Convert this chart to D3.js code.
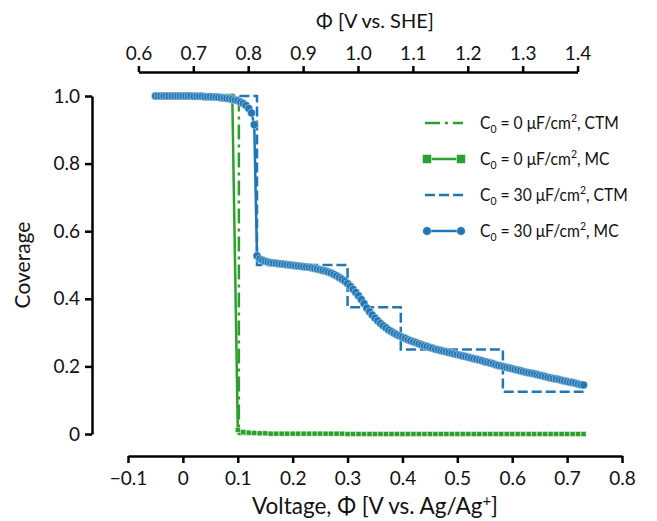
<!DOCTYPE html>
<html>
<head>
<meta charset="utf-8">
<script src="https://cdn.jsdelivr.net/npm/d3@7"></script>
<style>
  body { margin: 0; background: #fff; }
  text { font-family: Lato, "Noto Sans", sans-serif; fill: #111; }
</style>
</head>
<body>
<svg id="chart" width="657" height="521"></svg>
<script>
// ---- data ----
// MC, C0 = 30 uF/cm2 (blue circles)
const mc30Voltage = [
  -0.05,-0.045,-0.04,-0.035,-0.03,-0.025,-0.02,-0.015,-0.01,-0.005,
  0,0.005,0.01,0.015,0.02,0.025,0.03,0.035,0.04,0.045,
  0.05,0.055,0.06,0.065,0.07,0.075,0.08,0.085,0.09,0.095,
  0.1,0.105,0.11,0.115,0.12,0.125,0.13,0.135,0.14,0.145,
  0.15,0.155,0.16,0.165,0.17,0.175,0.18,0.185,0.19,0.195,
  0.2,0.205,0.21,0.215,0.22,0.225,0.23,0.235,0.24,0.245,
  0.25,0.255,0.26,0.265,0.27,0.275,0.28,0.285,0.29,0.295,
  0.3,0.305,0.31,0.315,0.32,0.325,0.33,0.335,0.34,0.345,
  0.35,0.355,0.36,0.365,0.37,0.375,0.38,0.385,0.39,0.395,
  0.4,0.405,0.41,0.415,0.42,0.425,0.43,0.435,0.44,0.445,
  0.45,0.455,0.46,0.465,0.47,0.475,0.48,0.485,0.49,0.495,
  0.5,0.505,0.51,0.515,0.52,0.525,0.53,0.535,0.54,0.545,
  0.55,0.555,0.56,0.565,0.57,0.575,0.58,0.585,0.59,0.595,
  0.6,0.605,0.61,0.615,0.62,0.625,0.63,0.635,0.64,0.645,
  0.65,0.655,0.66,0.665,0.67,0.675,0.68,0.685,0.69,0.695,
  0.7,0.705,0.71,0.715,0.72,0.725,0.73
];
const mc30Coverage = [
  1,1,1,1,1,1,1,1,1,1,
  1,1,1,1,0.999,0.999,0.999,0.999,0.998,0.998,
  0.998,0.997,0.997,0.996,0.995,0.994,0.993,0.992,0.990,0.988,
  0.986,0.982,0.978,0.972,0.963,0.950,0.915,0.527,0.518,0.514,
  0.511,0.509,0.507,0.506,0.505,0.504,0.503,0.502,0.501,0.500,
  0.499,0.498,0.497,0.496,0.495,0.494,0.493,0.492,0.490,0.488,
  0.486,0.484,0.482,0.479,0.476,0.472,0.468,0.463,0.458,0.452,
  0.445,0.437,0.428,0.419,0.409,0.398,0.386,0.373,0.362,0.352,
  0.343,0.335,0.327,0.320,0.314,0.308,0.303,0.298,0.294,0.290,
  0.286,0.283,0.279,0.276,0.273,0.270,0.267,0.264,0.261,0.259,
  0.256,0.254,0.251,0.249,0.247,0.245,0.243,0.241,0.239,0.237,
  0.235,0.233,0.231,0.229,0.227,0.225,0.223,0.221,0.219,0.217,
  0.214,0.212,0.210,0.208,0.205,0.203,0.201,0.199,0.197,0.195,
  0.193,0.191,0.189,0.187,0.185,0.183,0.181,0.180,0.178,0.176,
  0.174,0.172,0.170,0.168,0.166,0.164,0.163,0.161,0.159,0.157,
  0.155,0.153,0.152,0.150,0.148,0.146,0.145
];

// MC, C0 = 0 uF/cm2 (green squares)
const mc0Voltage = [
  -0.05,-0.04,-0.03,-0.02,-0.01,0,0.01,0.02,0.03,0.04,
  0.05,0.06,0.07,0.08,0.09,0.1,0.11,0.12,0.13,0.14,
  0.15,0.16,0.17,0.18,0.19,0.2,0.21,0.22,0.23,0.24,
  0.25,0.26,0.27,0.28,0.29,0.3,0.31,0.32,0.33,0.34,
  0.35,0.36,0.37,0.38,0.39,0.4,0.41,0.42,0.43,0.44,
  0.45,0.46,0.47,0.48,0.49,0.5,0.51,0.52,0.53,0.54,
  0.55,0.56,0.57,0.58,0.59,0.6,0.61,0.62,0.63,0.64,
  0.65,0.66,0.67,0.68,0.69,0.7,0.71,0.72,0.73
];
const mc0Coverage = [
  1,1,1,1,1,1,1,1,1,1,
  1,1,1,1,1,0.012,0.006,0.004,0.003,0.002,
  0.002,0.001,0.001,0.001,0.001,0.001,0.001,0.001,0.001,0.001,
  0.001,0.001,0.001,0.001,0.001,0,0,0,0,0,
  0,0,0,0,0,0,0,0,0,0,
  0,0,0,0,0,0,0,0,0,0,
  0,0,0,0,0,0,0,0,0,0,
  0,0,0,0,0,0,0,0,0
];

// CTM step curves
const ctm0Voltage = [-0.05, 0.102, 0.102, 0.73];
const ctm0Coverage = [1, 1, 0, 0];
const ctm30Voltage = [-0.05, 0.135, 0.135, 0.30, 0.30, 0.397, 0.397, 0.583, 0.583, 0.73];
const ctm30Coverage = [1, 1, 0.5, 0.5, 0.375, 0.375, 0.25, 0.25, 0.125, 0.125];

const xTicks = [-0.1, 0, 0.1, 0.2, 0.3, 0.4, 0.5, 0.6, 0.7, 0.8];
const yTicks = [0, 0.2, 0.4, 0.6, 0.8, 1.0];
const sheTicks = [0.6, 0.7, 0.8, 0.9, 1.0, 1.1, 1.2, 1.3, 1.4];
const sheOffset = 0.681; // V vs SHE = V vs Ag/Ag+ + offset

const green = '#2ca02c', blue = '#1f77b4';
const fontFamily = 'Lato, "Noto Sans", sans-serif';

const svg = d3.select('#chart');

const x = d3.scaleLinear().domain([-0.1, 0.8]).range([128, 622]);
const y = d3.scaleLinear().domain([0, 1]).range([434, 96]);
// top axis shares the bottom scale, shifted by the reference offset
const xShe = d3.scaleLinear()
  .domain([0.6, 1.4])
  .range([x(0.6 - sheOffset), x(1.4 - sheOffset)]);

const minus = s => s.replace('-', '\u2212');
const fmt = d => d === 0 ? '0' : minus(d3.format('.1f')(d));

function styleAxis(g) {
  g.select('.domain').attr('stroke', '#000').attr('stroke-width', 2.5);
  g.selectAll('.tick line').attr('stroke', '#000').attr('stroke-width', 2.5);
  g.selectAll('.tick text')
    .attr('font-family', fontFamily)
    .attr('font-size', 19)
    .attr('fill', '#111');
}

svg.append('g')
  .attr('transform', 'translate(0,456)')
  .call(d3.axisBottom(x).tickValues(xTicks).tickFormat(fmt).tickSize(7).tickSizeOuter(0).tickPadding(9))
  .call(styleAxis);

svg.append('g')
  .attr('transform', 'translate(92,0)')
  .call(d3.axisLeft(y).tickValues(yTicks).tickFormat(fmt).tickSize(7).tickSizeOuter(0).tickPadding(5))
  .call(styleAxis);

svg.append('g')
  .attr('transform', 'translate(0,72)')
  .call(d3.axisTop(xShe).tickValues(sheTicks).tickFormat(d3.format('.1f')).tickSize(6).tickSizeOuter(0).tickPadding(6))
  .call(styleAxis);

// axis titles
const xLabel = svg.append('text')
  .attr('x', (x.range()[0] + x.range()[1]) / 2)
  .attr('y', 514)
  .attr('text-anchor', 'middle')
  .attr('font-size', 22.5);
xLabel.append('tspan').text('Voltage, \u03a6 [V vs. Ag/Ag');
xLabel.append('tspan').attr('font-size', 15).attr('dy', -8).text('+');
xLabel.append('tspan').attr('dy', 8).text(']');

svg.append('text')
  .attr('x', (x.range()[0] + x.range()[1]) / 2)
  .attr('y', 28)
  .attr('text-anchor', 'middle')
  .attr('font-size', 20)
  .text('\u03a6 [V vs. SHE]');

svg.append('text')
  .attr('transform', `translate(30,${(y.range()[0] + y.range()[1]) / 2}) rotate(-90)`)
  .attr('text-anchor', 'middle')
  .attr('font-size', 21)
  .text('Coverage');

// ---- series ----
const line = d3.line().x(d => x(d[0])).y(d => y(d[1]));
const zipSeries = (vs, cs) => vs.map((v, i) => [v, cs[i]]);

const ctm0 = zipSeries(ctm0Voltage, ctm0Coverage);
const mc0 = zipSeries(mc0Voltage, mc0Coverage);
const ctm30 = zipSeries(ctm30Voltage, ctm30Coverage);
const mc30 = zipSeries(mc30Voltage, mc30Coverage);

const plot = svg.append('g');

plot.append('path').datum(ctm0)
  .attr('d', line).attr('fill', 'none')
  .attr('stroke', green).attr('stroke-width', 2.5)
  .attr('stroke-dasharray', '15,5,3,5');

plot.append('path').datum(mc0)
  .attr('d', line).attr('fill', 'none')
  .attr('stroke', green).attr('stroke-width', 2.5);
plot.append('g').selectAll('rect').data(mc0).join('rect')
  .attr('x', d => x(d[0]) - 2.5).attr('y', d => y(d[1]) - 2.5)
  .attr('width', 5).attr('height', 5)
  .attr('fill', green).attr('stroke', '#fff').attr('stroke-opacity', 0.6).attr('stroke-width', 0.7);

plot.append('path').datum(ctm30)
  .attr('d', line).attr('fill', 'none')
  .attr('stroke', blue).attr('stroke-width', 2.5)
  .attr('stroke-dasharray', '10,4');

plot.append('path').datum(mc30)
  .attr('d', line).attr('fill', 'none')
  .attr('stroke', blue).attr('stroke-width', 2.5);
plot.append('g').selectAll('circle').data(mc30).join('circle')
  .attr('cx', d => x(d[0])).attr('cy', d => y(d[1]))
  .attr('r', 4)
  .attr('fill', blue).attr('stroke', '#fff').attr('stroke-opacity', 0.6).attr('stroke-width', 0.7);

// ---- legend ----
const legendItems = [
  { c0: '0', model: 'CTM', color: green, dash: '15,5,3,5', marker: null },
  { c0: '0', model: 'MC', color: green, dash: null, marker: 'square' },
  { c0: '30', model: 'CTM', color: blue, dash: '10,4', marker: null },
  { c0: '30', model: 'MC', color: blue, dash: null, marker: 'circle' }
];

const legend = svg.append('g').attr('transform', 'translate(425,123)');
legendItems.forEach((it, i) => {
  const row = legend.append('g').attr('transform', `translate(0,${i * 36})`);
  row.append('line')
    .attr('x1', 0).attr('x2', 38).attr('y1', 0).attr('y2', 0)
    .attr('stroke', it.color).attr('stroke-width', 2.5)
    .attr('stroke-dasharray', it.dash);
  [2, 36].forEach(mx => {
    if (it.marker === 'square') {
      row.append('rect').attr('x', mx - 4.5).attr('y', -4.5).attr('width', 9).attr('height', 9)
        .attr('fill', it.color).attr('stroke', '#fff').attr('stroke-opacity', 0.5).attr('stroke-width', 1);
    } else if (it.marker === 'circle') {
      row.append('circle').attr('cx', mx).attr('cy', 0).attr('r', 4.3)
        .attr('fill', it.color).attr('stroke', '#fff').attr('stroke-opacity', 0.5).attr('stroke-width', 0.8);
    }
  });
  const t = row.append('text')
    .attr('transform', 'translate(55,6) scale(0.87,1)')
    .attr('font-size', 18);
  t.append('tspan').text('C');
  t.append('tspan').attr('font-size', 12).attr('dy', 4).text('0');
  t.append('tspan').attr('dy', -4).text(` = ${it.c0} \u03bcF/cm`);
  t.append('tspan').attr('font-size', 12).attr('dy', -7).text('2');
  t.append('tspan').attr('dy', 7).text(`, ${it.model}`);
});
</script>
</body>
</html>
